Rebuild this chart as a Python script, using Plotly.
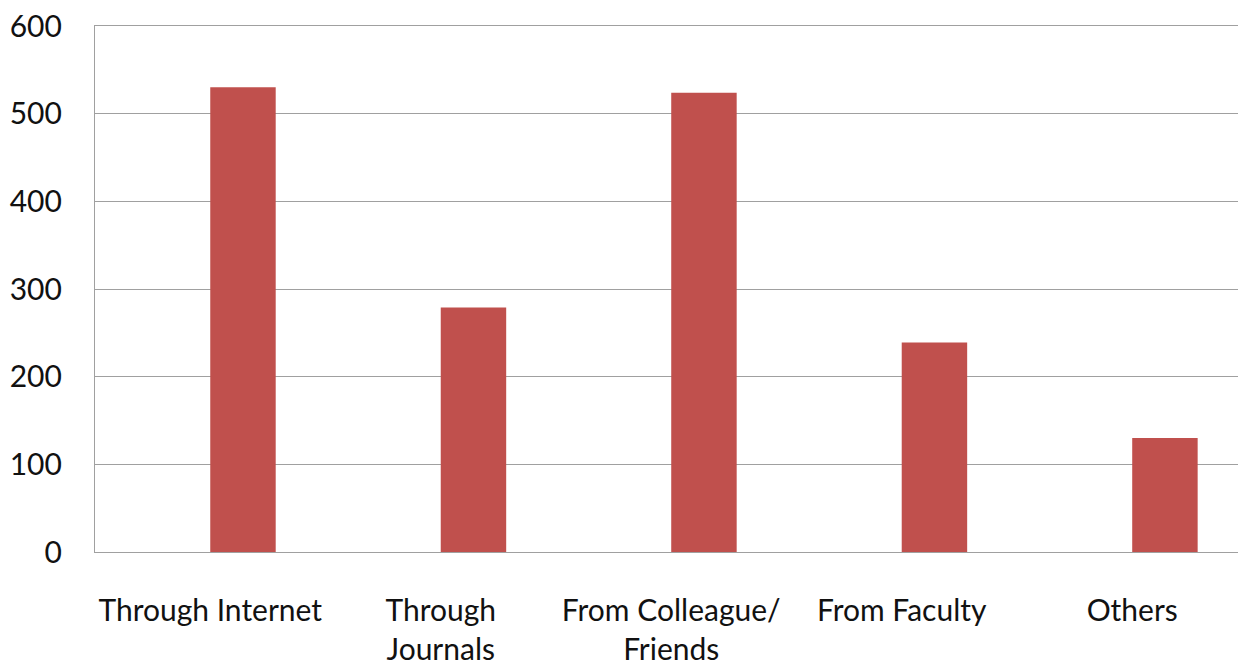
import plotly.graph_objects as go

categories = ["Through Internet", "Through<br>Journals", "From Colleague/<br>Friends",
              "From Faculty", "Others"]
values = [530, 279, 524, 239, 130]
y_ticks = [0, 100, 200, 300, 400, 500, 600]

fig = go.Figure()
fig.add_trace(go.Bar(
    x=categories, y=values,
    marker=dict(color="#C0504D", line=dict(width=0)),
    width=0.284, offset=0,
))

grid = "#a0a0a0"
fig.update_layout(
    width=1238, height=665,
    margin=dict(l=95, r=0, t=26, b=113),
    paper_bgcolor="white", plot_bgcolor="white",
    font=dict(family="Lato", size=30, color="#111111"),
    showlegend=False,
    xaxis=dict(
        type="category", automargin=False,
        range=[-0.5, 4.459],
        showgrid=False, zeroline=False,
        showline=True, mirror=True, linecolor=grid, linewidth=1.3,
        ticks="", ticklabelstandoff=32,
        tickfont=dict(size=30),
    ),
    yaxis=dict(
        automargin=False,
        range=[0, 600], tickvals=y_ticks,
        showgrid=True, gridcolor=grid, gridwidth=1.3,
        showline=True, linecolor=grid, linewidth=1.3,
        zeroline=True, zerolinecolor=grid, zerolinewidth=1.3,
        ticks="", ticklabelstandoff=26,
        tickfont=dict(size=30),
    ),
)
fig.write_html("out.html")
